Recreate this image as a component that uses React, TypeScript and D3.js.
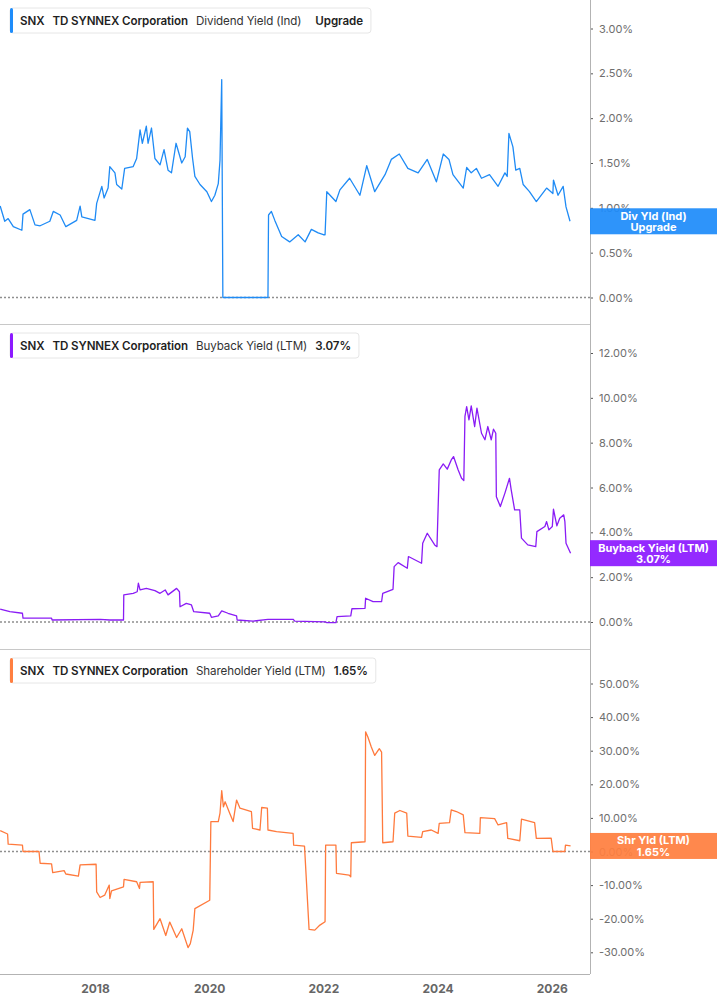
import React, {useEffect, useRef} from "react";
import * as d3 from "d3";

// x values are decimal years, y values are percent
const yearTicks = [2018, 2020, 2022, 2024, 2026];
const divTicks = [0, 0.5, 1, 1.5, 2, 2.5, 3];
const buybackTicks = [0, 2, 4, 6, 8, 10, 12];
const shrTicks = [-30, -20, -10, 0, 10, 20, 30, 40, 50];

const divYield: [number, number][] = [
    [2016.34, 1.02], [2016.42, 0.85], [2016.48, 0.88], [2016.57, 0.79], [2016.72, 0.75], [2016.74, 0.93],
    [2016.86, 0.98], [2016.95, 0.81], [2017.04, 0.80], [2017.21, 0.85], [2017.27, 0.96], [2017.39, 0.92],
    [2017.49, 0.79], [2017.68, 0.86], [2017.74, 1.02], [2017.77, 0.90], [2018.00, 0.86], [2018.03, 1.05],
    [2018.12, 1.24], [2018.16, 1.11], [2018.23, 1.22], [2018.26, 1.46], [2018.35, 1.39], [2018.38, 1.26],
    [2018.47, 1.21], [2018.52, 1.44], [2018.67, 1.46], [2018.73, 1.55], [2018.79, 1.87], [2018.83, 1.72],
    [2018.90, 1.91], [2018.93, 1.72], [2018.99, 1.89], [2019.05, 1.55], [2019.14, 1.48], [2019.21, 1.65],
    [2019.28, 1.42], [2019.34, 1.39], [2019.42, 1.72], [2019.52, 1.50], [2019.58, 1.57], [2019.62, 1.89],
    [2019.66, 1.85], [2019.71, 1.55], [2019.75, 1.35], [2019.84, 1.26], [2019.96, 1.18], [2020.04, 1.07],
    [2020.10, 1.14], [2020.16, 1.27], [2020.19, 1.53], [2020.22, 2.43], [2020.24, 0], [2021.03, 0],
    [2021.04, 0.92], [2021.09, 0.96], [2021.15, 0.86], [2021.27, 0.68], [2021.41, 0.62], [2021.56, 0.70],
    [2021.68, 0.62], [2021.79, 0.76], [2021.91, 0.72], [2022.00, 0.70], [2022.03, 0.70], [2022.06, 1.18],
    [2022.22, 1.07], [2022.29, 1.20], [2022.46, 1.33], [2022.64, 1.14], [2022.76, 1.47], [2022.90, 1.18],
    [2023.08, 1.37], [2023.19, 1.54], [2023.33, 1.60], [2023.48, 1.44], [2023.66, 1.39], [2023.82, 1.54],
    [2023.98, 1.29], [2024.10, 1.60], [2024.20, 1.54], [2024.27, 1.37], [2024.45, 1.22], [2024.51, 1.45],
    [2024.59, 1.39], [2024.68, 1.44], [2024.77, 1.33], [2024.91, 1.37], [2025.06, 1.24], [2025.18, 1.39],
    [2025.22, 1.35], [2025.25, 1.83], [2025.32, 1.68], [2025.37, 1.42], [2025.44, 1.44], [2025.50, 1.26],
    [2025.61, 1.18], [2025.73, 1.07], [2025.91, 1.22], [2026.02, 1.16], [2026.03, 1.31], [2026.11, 1.14],
    [2026.20, 1.24], [2026.25, 1.01], [2026.32, 0.85],
];

const buybackYield: [number, number][] = [
    [2016.34, 0.57], [2016.51, 0.46], [2016.73, 0.39], [2016.74, 0.17], [2017.24, 0.17], [2017.25, 0.09],
    [2018.09, 0.12], [2018.26, 0.09], [2018.50, 0.09], [2018.505, 1.21], [2018.67, 1.28], [2018.74, 1.35],
    [2018.76, 1.73], [2018.79, 1.43], [2018.90, 1.50], [2019.05, 1.40], [2019.14, 1.28], [2019.23, 1.43],
    [2019.28, 1.21], [2019.43, 1.50], [2019.48, 1.35], [2019.49, 0.68], [2019.60, 0.83], [2019.69, 0.76],
    [2019.73, 0.46], [2020.01, 0.39], [2020.04, 0.21], [2020.16, 0.27], [2020.22, 0.50], [2020.33, 0.39],
    [2020.48, 0.27], [2020.49, 0.09], [2020.77, 0.04], [2021.03, 0.12], [2021.47, 0.12], [2021.50, 0.04],
    [2022.03, 0.01], [2022.06, -0.03], [2022.22, -0.03], [2022.24, 0.24], [2022.48, 0.27], [2022.50, 0.59],
    [2022.73, 0.61], [2022.74, 1.06], [2022.87, 0.91], [2023.02, 0.91], [2023.04, 1.28], [2023.22, 1.46],
    [2023.24, 2.47], [2023.31, 2.65], [2023.47, 2.40], [2023.49, 2.92], [2023.72, 2.62], [2023.74, 3.51],
    [2023.82, 3.96], [2023.95, 3.44], [2023.99, 3.36], [2024.03, 6.79], [2024.10, 7.05], [2024.17, 6.82],
    [2024.24, 7.23], [2024.28, 7.38], [2024.36, 6.79], [2024.42, 6.41], [2024.46, 6.31], [2024.48, 9.17],
    [2024.51, 9.61], [2024.55, 9.02], [2024.59, 9.64], [2024.65, 8.72], [2024.69, 9.54], [2024.77, 8.42],
    [2024.83, 8.13], [2024.88, 8.72], [2024.94, 8.13], [2024.98, 8.60], [2025.02, 8.42], [2025.03, 5.59],
    [2025.10, 5.15], [2025.18, 5.75], [2025.26, 6.41], [2025.29, 5.89], [2025.35, 5.00], [2025.44, 5.00],
    [2025.47, 3.74], [2025.58, 3.44], [2025.72, 3.36], [2025.74, 4.03], [2025.88, 4.26], [2025.91, 4.48],
    [2025.95, 4.11], [2026.01, 4.26], [2026.03, 5.03], [2026.09, 4.29], [2026.14, 4.63], [2026.21, 4.78],
    [2026.23, 4.48], [2026.25, 3.51], [2026.33, 3.07],
];

const shareholderYield: [number, number][] = [
    [2016.34, 6.2], [2016.47, 5.2], [2016.48, 2.2], [2016.73, 1.9], [2016.74, 0], [2017.02, 0],
    [2017.04, -3.5], [2017.24, -3.7], [2017.26, -6.3], [2017.46, -5.7], [2017.49, -6.7], [2017.71, -7.3],
    [2017.74, -4.0], [2018.02, -3.8], [2018.03, -12.0], [2018.09, -13.7], [2018.17, -13.0], [2018.25, -10.0],
    [2018.26, -14.0], [2018.29, -11.7], [2018.50, -10.5], [2018.51, -8.3], [2018.73, -9.0], [2018.78, -11.0],
    [2018.79, -9.2], [2019.02, -9.0], [2019.03, -23.2], [2019.14, -20.0], [2019.24, -25.0], [2019.31, -21.0],
    [2019.43, -25.6], [2019.52, -23.0], [2019.63, -28.6], [2019.67, -27.4], [2019.72, -23.5], [2019.75, -17.0],
    [2020.01, -14.5], [2020.03, 8.9], [2020.16, 8.9], [2020.19, 11.4], [2020.22, 18.1], [2020.25, 13.3],
    [2020.28, 14.8], [2020.36, 11.4], [2020.42, 8.9], [2020.48, 15.3], [2020.54, 12.9], [2020.74, 11.9],
    [2020.76, 6.9], [2020.89, 6.4], [2020.92, 13.1], [2021.02, 12.9], [2021.03, 6.4], [2021.18, 5.9],
    [2021.47, 5.4], [2021.48, 1.9], [2021.67, 1.6], [2021.75, -23.2], [2021.85, -23.4], [2021.94, -21.9],
    [2022.03, -20.9], [2022.04, 1.9], [2022.22, 1.9], [2022.23, -6.5], [2022.45, -7.0], [2022.48, -7.5],
    [2022.49, 2.6], [2022.73, 2.9], [2022.74, 35.6], [2022.78, 34.1], [2022.84, 31.1], [2022.90, 28.6],
    [2022.98, 30.6], [2023.02, 29.6], [2023.04, 2.6], [2023.22, 2.9], [2023.25, 11.4], [2023.34, 12.2],
    [2023.46, 11.4], [2023.48, 4.6], [2023.72, 4.2], [2023.74, 5.9], [2023.89, 6.4], [2024.01, 5.4],
    [2024.03, 8.4], [2024.21, 8.6], [2024.24, 12.4], [2024.33, 11.9], [2024.45, 10.9], [2024.48, 5.6],
    [2024.74, 5.4], [2024.75, 10.1], [2025.00, 9.8], [2025.06, 7.9], [2025.21, 8.6], [2025.23, 3.9],
    [2025.44, 3.2], [2025.47, 9.6], [2025.70, 8.6], [2025.73, 3.9], [2025.99, 4.0], [2026.02, 0],
    [2026.23, 0], [2026.24, 1.9], [2026.33, 1.65],
];

const panels = [
    {
        data: divYield, ticks: divTicks, domain: [0, 3], range: [297.5, 28.5], top: 0,
        line: "#1f8bf5", box: "#1e8cfa",
        legend: [["SNX", true], ["TD SYNNEX Corporation", true], ["Dividend Yield (Ind)", false], ["Upgrade", true]],
        tag: ["Div Yld (Ind)", "Upgrade"],
    },
    {
        data: buybackYield, ticks: buybackTicks, domain: [0, 12], range: [622, 353], top: 325,
        line: "#8a1cf5", box: "#8c1aff",
        legend: [["SNX", true], ["TD SYNNEX Corporation", true], ["Buyback Yield (LTM)", false], ["3.07%", true]],
        tag: ["Buyback Yield (LTM)", "3.07%"],
    },
    {
        data: shareholderYield, ticks: shrTicks, domain: [0, 50], range: [851.5, 683.5], top: 650,
        line: "#ff7a3d", box: "#ff7f40",
        legend: [["SNX", true], ["TD SYNNEX Corporation", true], ["Shareholder Yield (LTM)", false], ["1.65%", true]],
        tag: ["Shr Yld (LTM)", "1.65%"],
    },
];

const FONT = "Inter, 'Noto Sans', sans-serif";

const App: React.FC = () => {
    const svgRef = useRef<SVGSVGElement | null>(null);

    useEffect(() => {
        if (!svgRef.current) return;
        const svg = d3.select(svgRef.current);
        svg.selectAll("*").remove();

        const width = 717;
        const axisX = 590;
        const bottom = 974;

        const x = d3.scaleLinear().domain([2016.337, 2026.67]).range([0, axisX]);

        const lines = svg.append("g");
        const frame = svg.append("g");
        const overlay = svg.append("g");

        panels.forEach((p, i) => {
            const y = d3.scaleLinear().domain(p.domain).range(p.range);

            // dotted zero line
            lines.append("line")
                .attr("x1", 0).attr("x2", axisX)
                .attr("y1", y(0)).attr("y2", y(0))
                .attr("stroke", "#8f8f8f")
                .attr("stroke-width", 1.3)
                .attr("stroke-dasharray", "2,2");

            const line = d3.line<[number, number]>()
                .x((d) => x(d[0]))
                .y((d) => y(d[1]));

            lines.append("path")
                .datum(p.data)
                .attr("d", line)
                .attr("fill", "none")
                .attr("stroke", p.line)
                .attr("stroke-width", 1.3)
                .attr("stroke-linejoin", "round");

            const axis = frame.append("g")
                .attr("transform", `translate(${axisX},0)`)
                .call(d3.axisRight(y).tickValues(p.ticks).tickSize(3).tickPadding(6)
                    .tickFormat((d) => `${(+d).toFixed(2)}%`));
            axis.select(".domain").remove();
            axis.selectAll(".tick line").attr("stroke", "#555");
            axis.selectAll(".tick text")
                .attr("fill", "#6e6e6e")
                .attr("font-size", 11)
                .attr("font-family", FONT);

            if (i > 0) {
                frame.append("line")
                    .attr("x1", 0).attr("x2", axisX)
                    .attr("y1", p.top - 0.5).attr("y2", p.top - 0.5)
                    .attr("stroke", "#c8c8c8");
            }

            // value tag on the right axis
            const last = p.data[p.data.length - 1];
            const cy = y(last[1]);
            overlay.append("rect")
                .attr("x", axisX).attr("y", cy - 13)
                .attr("width", width - axisX).attr("height", 26)
                .attr("fill", p.box)
                .attr("opacity", 0.93);
            p.tag.forEach((t, k) => {
                overlay.append("text")
                    .attr("x", (axisX + width) / 2)
                    .attr("y", cy - 1.5 + k * 11.5)
                    .attr("text-anchor", "middle")
                    .attr("fill", "#fff")
                    .attr("font-size", 11)
                    .attr("font-weight", 700)
                    .attr("font-family", FONT)
                    .text(t);
            });

            // legend box
            const lg = overlay.append("g").attr("transform", `translate(10,${p.top + 8})`);
            const bg = lg.append("rect")
                .attr("x", 0).attr("y", 0).attr("height", 25).attr("rx", 3)
                .attr("fill", "#fff")
                .attr("stroke", "#e6e6e6");
            lg.append("rect")
                .attr("x", 0).attr("y", 0).attr("width", 3).attr("height", 25).attr("rx", 1.5)
                .attr("fill", p.box);
            let cx = 10;
            p.legend.forEach(([t, bold], k) => {
                if (k === 3 && i === 0) cx += 6;
                const txt = lg.append("text")
                    .attr("x", cx).attr("y", 17)
                    .attr("fill", bold ? "#1f1f1f" : "#333")
                    .attr("font-size", 11.6)
                    .attr("font-weight", bold ? 600 : 400)
                    .attr("font-family", FONT)
                    .attr("letter-spacing", -0.1)
                    .text(t as string);
                const node = txt.node() as SVGTextElement;
                cx += node.getComputedTextLength() + 8;
            });
            bg.attr("width", cx);
        });

        // frame lines
        frame.append("line")
            .attr("x1", axisX + 0.5).attr("x2", axisX + 0.5)
            .attr("y1", 0).attr("y2", bottom)
            .attr("stroke", "#b3b3b3");
        frame.append("line")
            .attr("x1", 0).attr("x2", axisX)
            .attr("y1", bottom + 0.5).attr("y2", bottom + 0.5)
            .attr("stroke", "#b3b3b3");

        const xAxis = frame.append("g")
            .attr("transform", `translate(0,${bottom})`)
            .call(d3.axisBottom(x).tickValues(yearTicks).tickSize(0).tickPadding(10)
                .tickFormat(d3.format("d")));
        xAxis.select(".domain").remove();
        xAxis.selectAll(".tick text")
            .attr("fill", "#666")
            .attr("font-size", 12)
            .attr("font-weight", 700)
            .attr("font-family", FONT);
    }, []);

    return (
        <svg
            ref={svgRef}
            width={717}
            height={1005}
            style={{position: "absolute", left: 0, top: 0, background: "#fff"}}
        ></svg>
    );
};

export default App;
